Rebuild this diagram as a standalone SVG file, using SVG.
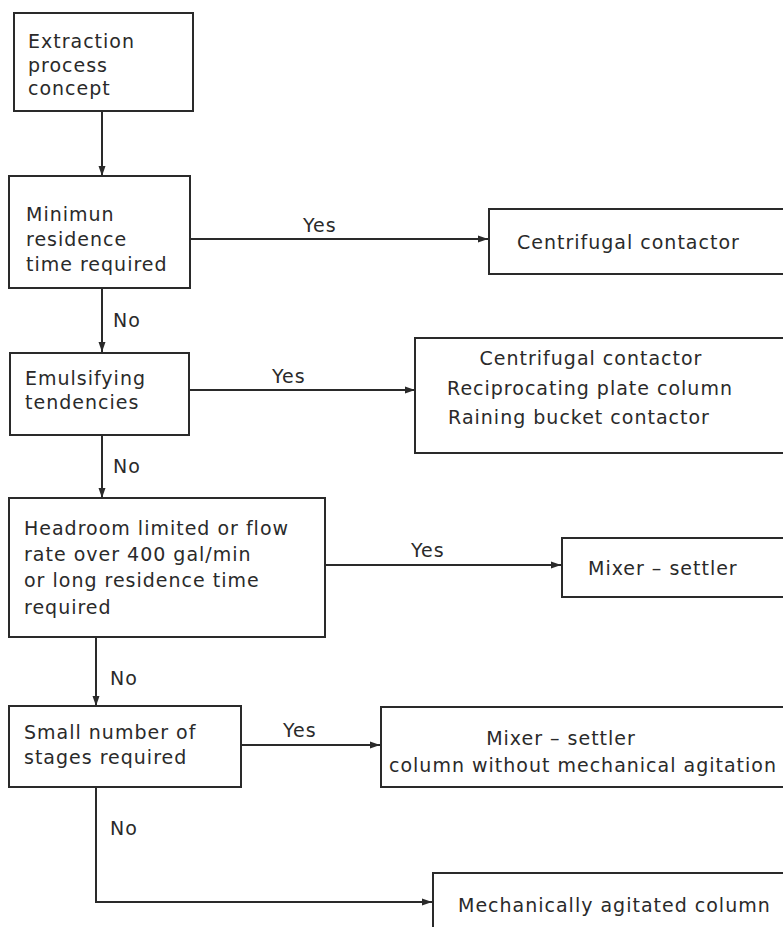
<svg xmlns="http://www.w3.org/2000/svg" width="783" height="927" viewBox="0 0 783 927">
<style>
.box{fill:#fff;stroke:#2a2a2a;stroke-width:2}
.t{font-family:"DejaVu Sans",sans-serif;font-size:19px;fill:#2a2a2a;letter-spacing:1px}
.c{text-anchor:middle}
.ln{fill:none;stroke:#2a2a2a;stroke-width:2}
</style>
<defs>
<marker id="ah" viewBox="0 0 10 10" refX="10" refY="5" markerWidth="10" markerHeight="10" markerUnits="userSpaceOnUse" orient="auto">
<path d="M0,1.5 L10,5 L0,8.5 Z" fill="#2a2a2a"/>
</marker>
</defs>
<rect width="783" height="927" fill="#fff"/>
<g id="connectors">
<path class="ln" d="M102,111 V176" marker-end="url(#ah)"/>
<path class="ln" d="M190,239 H488" marker-end="url(#ah)"/>
<text class="t" x="303" y="232">Yes</text>
<path class="ln" d="M102,288 V352" marker-end="url(#ah)"/>
<text class="t" x="113" y="327">No</text>
<path class="ln" d="M189,390 H415" marker-end="url(#ah)"/>
<text class="t" x="272" y="383">Yes</text>
<path class="ln" d="M102,435 V498" marker-end="url(#ah)"/>
<text class="t" x="113" y="473">No</text>
<path class="ln" d="M325,565 H561" marker-end="url(#ah)"/>
<text class="t" x="411" y="557">Yes</text>
<path class="ln" d="M96,637 V706" marker-end="url(#ah)"/>
<text class="t" x="110" y="685">No</text>
<path class="ln" d="M241,745 H380" marker-end="url(#ah)"/>
<text class="t" x="283" y="737">Yes</text>
<path class="ln" d="M96,787 V902 H432" marker-end="url(#ah)"/>
<text class="t" x="110" y="835">No</text>
</g>
<g id="n1">
<rect class="box" x="14" y="13" width="179" height="98"/>
<text class="t" x="28" y="48">Extraction</text>
<text class="t" x="28" y="72">process</text>
<text class="t" x="28" y="95">concept</text>
</g>
<g id="n2">
<rect class="box" x="9" y="176" width="181" height="112"/>
<text class="t" x="26" y="221">Minimun</text>
<text class="t" x="26" y="246">residence</text>
<text class="t" x="26" y="271">time required</text>
</g>
<g id="n3">
<rect class="box" x="489" y="209" width="300" height="65"/>
<text class="t" x="517" y="249">Centrifugal contactor</text>
</g>
<g id="n4">
<rect class="box" x="10" y="353" width="179" height="82"/>
<text class="t" x="25" y="385">Emulsifying</text>
<text class="t" x="25" y="409">tendencies</text>
</g>
<g id="n5">
<rect class="box" x="415" y="338" width="374" height="115"/>
<text class="t c" x="591" y="365">Centrifugal contactor</text>
<text class="t c" x="590" y="395">Reciprocating plate column</text>
<text class="t c" x="579" y="424">Raining bucket contactor</text>
</g>
<g id="n6">
<rect class="box" x="9" y="498" width="316" height="139"/>
<text class="t" x="24" y="535">Headroom limited or flow</text>
<text class="t" x="24" y="561">rate over 400 gal/min</text>
<text class="t" x="24" y="587">or long residence time</text>
<text class="t" x="24" y="614">required</text>
</g>
<g id="n7">
<rect class="box" x="562" y="538" width="227" height="59"/>
<text class="t" x="588" y="575">Mixer – settler</text>
</g>
<g id="n8">
<rect class="box" x="9" y="706" width="232" height="81"/>
<text class="t" x="24" y="739">Small number of</text>
<text class="t" x="24" y="764">stages required</text>
</g>
<g id="n9">
<rect class="box" x="381" y="707" width="408" height="80"/>
<text class="t c" x="561" y="745">Mixer – settler</text>
<text class="t c" x="583" y="772">column without mechanical agitation</text>
</g>
<g id="n10">
<rect class="box" x="433" y="873" width="356" height="70"/>
<text class="t" x="458" y="912">Mechanically agitated column</text>
</g>
</svg>
